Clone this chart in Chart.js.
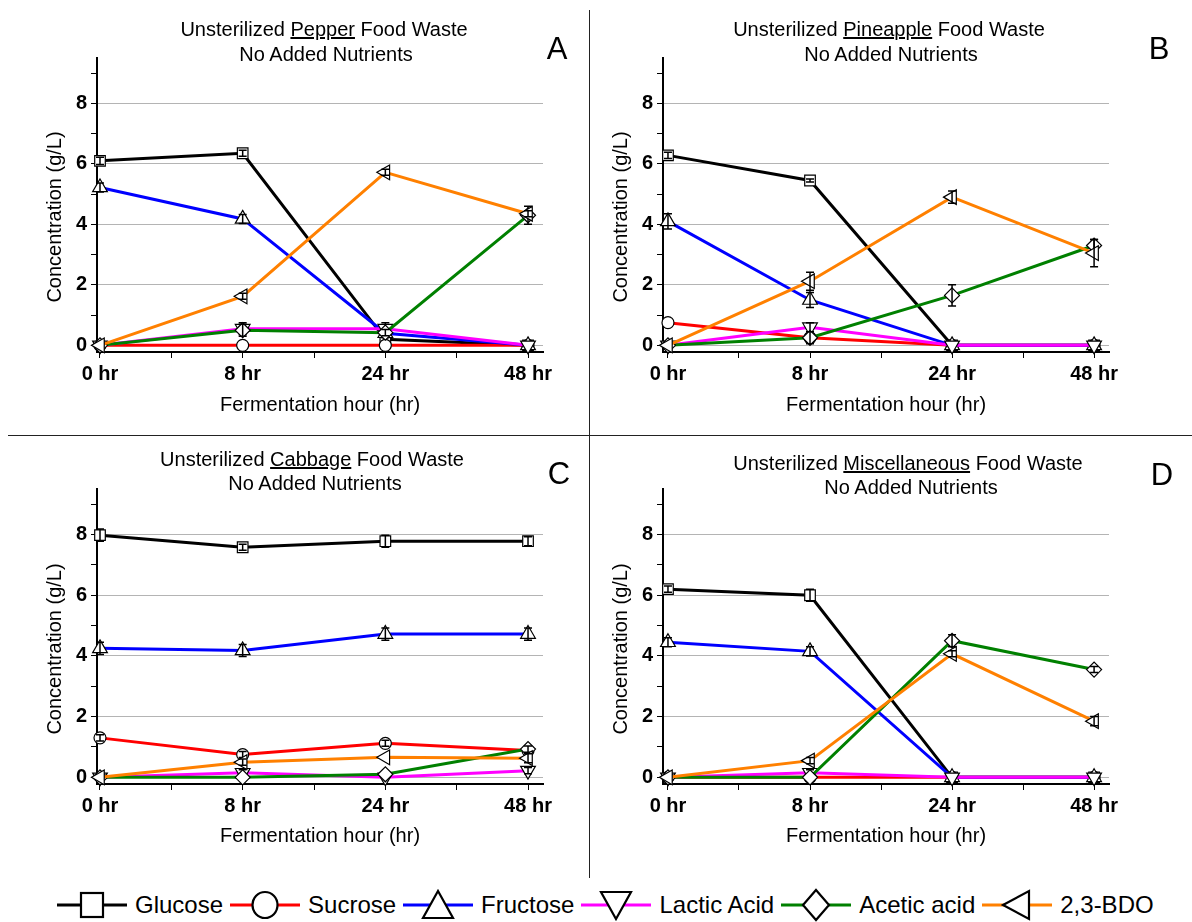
<!DOCTYPE html>
<html>
<head>
<meta charset="utf-8">
<script src="https://cdn.jsdelivr.net/npm/chart.js@4.4.0/dist/chart.umd.min.js"></script>
<style>
    body {
        margin: 0;
        width: 1192px;
        height: 922px;
        position: relative;
        overflow: hidden;
        background: #fff;
        font-family: 'Liberation Sans', Arial, sans-serif;
        color: #000;
    }
    canvas { position: absolute; }
    .title {
        position: absolute;
        transform: translate(-50%, -50%);
        font-size: 20px;
        line-height: 1;
        white-space: nowrap;
    }
    .ytitle {
        position: absolute;
        transform: translate(-50%, -50%) rotate(-90deg);
        font-size: 20px;
        line-height: 1;
        white-space: nowrap;
    }
    .letter {
        position: absolute;
        transform: translate(-50%, -50%);
        font-size: 31px;
        line-height: 1;
    }
    .vline { position: absolute; left: 589px; top: 10px; width: 1px; height: 868px; background: #222; }
    .hline { position: absolute; left: 8px; top: 435px; width: 1184px; height: 1px; background: #222; }
    .legend {
        position: absolute;
        left: 57px;
        top: 888px;
        height: 34px;
        display: flex;
        align-items: center;
        font-size: 24px;
        white-space: nowrap;
    }
    .legend .item { display: flex; align-items: center; margin-right: 7px; }
    .legend svg { margin-right: 8px; }
</style>
</head>
<body>

<canvas id="chartA" width="589" height="430" style="left:0;top:0"></canvas>
<canvas id="chartB" width="602" height="430" style="left:590px;top:0"></canvas>
<canvas id="chartC" width="589" height="430" style="left:0;top:437px"></canvas>
<canvas id="chartD" width="602" height="430" style="left:590px;top:437px"></canvas>

<div class="title" style="left:324px;top:29px">Unsterilized <u>Pepper</u> Food Waste</div>
<div class="title" style="left:326px;top:54px">No Added Nutrients</div>
<div class="title" style="left:889px;top:29px">Unsterilized <u>Pineapple</u> Food Waste</div>
<div class="title" style="left:891px;top:54px">No Added Nutrients</div>
<div class="title" style="left:312px;top:459px">Unsterilized <u>Cabbage</u> Food Waste</div>
<div class="title" style="left:315px;top:483px">No Added Nutrients</div>
<div class="title" style="left:908px;top:463px">Unsterilized <u>Miscellaneous</u> Food Waste</div>
<div class="title" style="left:911px;top:487px">No Added Nutrients</div>

<div class="ytitle" style="left:54px;top:217px">Concentration (g/L)</div>
<div class="ytitle" style="left:620px;top:217px">Concentration (g/L)</div>
<div class="ytitle" style="left:54px;top:649px">Concentration (g/L)</div>
<div class="ytitle" style="left:620px;top:649px">Concentration (g/L)</div>

<div class="letter" style="left:557px;top:48px">A</div>
<div class="letter" style="left:1159px;top:48px">B</div>
<div class="letter" style="left:559px;top:473px">C</div>
<div class="letter" style="left:1162px;top:474px">D</div>

<div class="vline"></div>
<div class="hline"></div>

<div class="legend" id="legend"></div>

<script>
// 공통 데이터
const hours = ['0 hr', '8 hr', '24 hr', '48 hr'];
const compounds = ['Glucose', 'Sucrose', 'Fructose', 'Lactic Acid', 'Acetic acid', '2,3-BDO'];

// A - Pepper
const pepperGlucose = [6.1, 6.35, 0.2, 0];
const pepperSucrose = [0, 0, 0, 0];
const pepperFructose = [5.22, 4.18, 0.4, 0];
const pepperLactic = [0, 0.55, 0.55, 0];
const pepperAcetic = [0, 0.5, 0.42, 4.3];
const pepperBdo = [0, 1.62, 5.72, 4.35];
// 오차 (± g/L), compounds 순서
const pepperErrors = [
    [0.12, 0.1, 0.05, 0],
    [0, 0, 0, 0],
    [0.15, 0.15, 0.1, 0],
    [0, 0.2, 0.2, 0],
    [0, 0.2, 0.1, 0.3],
    [0, 0.1, 0.1, 0.1]
];

// B - Pineapple
const pineappleGlucose = [6.28, 5.45, 0, 0];
const pineappleSucrose = [0.75, 0.25, 0, 0];
const pineappleFructose = [4.1, 1.5, 0, 0];
const pineappleLactic = [0, 0.6, 0, 0];
const pineappleAcetic = [0, 0.25, 1.65, 3.3];
const pineappleBdo = [0, 2.12, 4.9, 3.05];
const pineappleErrors = [
    [0.1, 0.05, 0, 0],
    [0, 0.05, 0, 0],
    [0.25, 0.25, 0, 0],
    [0, 0.15, 0, 0],
    [0, 0.2, 0.35, 0.2],
    [0, 0.3, 0.2, 0.45]
];

// C - Cabbage
const cabbageGlucose = [7.98, 7.58, 7.78, 7.78];
const cabbageSucrose = [1.3, 0.75, 1.12, 0.88];
const cabbageFructose = [4.25, 4.18, 4.72, 4.72];
const cabbageLactic = [0, 0.15, 0, 0.22];
const cabbageAcetic = [0, 0, 0.1, 0.93];
const cabbageBdo = [0, 0.5, 0.66, 0.63];
const cabbageErrors = [
    [0.2, 0.1, 0.2, 0.15],
    [0.1, 0.1, 0.1, 0.05],
    [0.2, 0.2, 0.2, 0.2],
    [0, 0.1, 0, 0.1],
    [0, 0, 0, 0.1],
    [0, 0.1, 0, 0.15]
];

// D - Miscellaneous
const miscGlucose = [6.2, 6.0, 0, 0];
const miscSucrose = [0, 0, 0, 0];
const miscFructose = [4.45, 4.15, 0, 0];
const miscLactic = [0, 0.15, 0, 0];
const miscAcetic = [0, 0, 4.5, 3.55];
const miscBdo = [0, 0.55, 4.07, 1.85];
const miscErrors = [
    [0.1, 0.2, 0, 0],
    [0, 0, 0, 0],
    [0.15, 0.15, 0, 0],
    [0, 0.1, 0, 0],
    [0, 0, 0.2, 0.1],
    [0, 0.1, 0.1, 0.15]
];

// 스타일
const lineColors = ['#000000', '#ff0000', '#0000ff', '#ff00ff', '#008000', '#ff8000'];
const pointStyles = ['rect', 'circle', 'triangle', 'triangle', 'rectRot', 'triangle'];
const pointRotations = [0, 0, 0, 180, 0, 270];
const pointSizes = [7.5, 6, 8.5, 8.5, 7.5, 8.5];

Chart.defaults.font.family = "'Liberation Sans', Arial, sans-serif";
Chart.defaults.color = '#000';


// 오차 막대 (각 데이터셋 뒤에 그림)
const errorBarPlugin = {
    id: 'errorBars',
    afterDatasetDraw: function(chart, args) {

        const ds = chart.data.datasets[args.index];
        const err = ds.errors || [];
        const yScale = chart.scales.y;
        const ctx = chart.ctx;

        ctx.save();
        ctx.strokeStyle = '#000';
        ctx.lineWidth = 1.5;

        args.meta.data.forEach(function(pt, k) {
            const e = err[k];
            if (!e) {
                return;
            }
            const v = ds.data[k].y;
            const top = yScale.getPixelForValue(v + e);
            const bot = yScale.getPixelForValue(v - e);

            ctx.beginPath();
            ctx.moveTo(pt.x, top);
            ctx.lineTo(pt.x, bot);
            ctx.moveTo(pt.x - 4, top);
            ctx.lineTo(pt.x + 4, top);
            ctx.moveTo(pt.x - 4, bot);
            ctx.lineTo(pt.x + 4, bot);
            ctx.stroke();
        });

        ctx.restore();
    }
};


function makePanel(id, series, errors, geo) {

    const ctx = document.getElementById(id);

    return new Chart(ctx, {
        type: 'line',
        data: {
            datasets: series.map(function(values, i) {
                return {
                    label: compounds[i],
                    data: values.map(function(v, k) {
                        return { x: k, y: v };
                    }),
                    errors: errors[i],
                    borderColor: lineColors[i],
                    borderWidth: 3,
                    pointStyle: pointStyles[i],
                    pointRotation: pointRotations[i],
                    pointRadius: pointSizes[i],
                    pointBackgroundColor: '#fff',
                    pointBorderColor: '#000',
                    pointBorderWidth: 1.2,
                    tension: 0,
                    clip: false,
                    order: series.length - 1 - i
                };
            })
        },
        plugins: [errorBarPlugin],
        options: {
            responsive: false,
            animation: false,
            layout: {
                padding: { top: geo.top, right: geo.right, left: 0, bottom: 0 }
            },
            plugins: {
                legend: { display: false },
                tooltip: { enabled: false }
            },
            scales: {
                x: {
                    type: 'linear',
                    min: geo.xMin,
                    max: 3.105,
                    afterFit: function(scale) { scale.height = geo.xAxisHeight; },
                    border: { color: '#000', width: 2 },
                    grid: {
                        drawOnChartArea: false,
                        drawTicks: true,
                        tickLength: 6,
                        tickColor: '#000'
                    },
                    ticks: {
                        stepSize: 0.5,
                        includeBounds: false,
                        autoSkip: false,
                        maxRotation: 0,
                        padding: 4,
                        color: '#000',
                        font: { size: 20, weight: 'bold' },
                        callback: function(v) {
                            return Number.isInteger(v) ? hours[v] : '';
                        }
                    },
                    title: {
                        display: true,
                        text: 'Fermentation hour (hr)',
                        color: '#000',
                        font: { size: 20 },
                        padding: { top: 0, bottom: geo.xTitlePad }
                    }
                },
                y: {
                    min: -0.22,
                    max: 9.5,
                    afterFit: function(scale) { scale.width = geo.yAxisWidth; },
                    border: { color: '#000', width: 2 },
                    grid: {
                        color: function(c) {
                            return (c.tick && c.tick.value % 2 === 0) ? '#b4b4b4' : 'rgba(0,0,0,0)';
                        },
                        tickColor: '#000',
                        tickLength: 6
                    },
                    ticks: {
                        stepSize: 1,
                        includeBounds: false,
                        padding: 4,
                        color: '#000',
                        font: { size: 20, weight: 'bold' },
                        callback: function(v) {
                            return v % 2 === 0 ? String(v) : '';
                        }
                    }
                }
            }
        }
    });
}


const geoLeftTop = { top: 58, right: 46, yAxisWidth: 97, xAxisHeight: 78, xTitlePad: 13, xMin: -0.021 };
const geoRightTop = { top: 58, right: 83, yAxisWidth: 73, xAxisHeight: 78, xTitlePad: 13, xMin: -0.035 };
const geoLeftBottom = { top: 52, right: 46, yAxisWidth: 97, xAxisHeight: 83, xTitlePad: 19, xMin: -0.021 };
const geoRightBottom = { top: 52, right: 83, yAxisWidth: 73, xAxisHeight: 83, xTitlePad: 19, xMin: -0.035 };

makePanel('chartA',
    [pepperGlucose, pepperSucrose, pepperFructose, pepperLactic, pepperAcetic, pepperBdo],
    pepperErrors, geoLeftTop);
makePanel('chartB',
    [pineappleGlucose, pineappleSucrose, pineappleFructose, pineappleLactic, pineappleAcetic, pineappleBdo],
    pineappleErrors, geoRightTop);
makePanel('chartC',
    [cabbageGlucose, cabbageSucrose, cabbageFructose, cabbageLactic, cabbageAcetic, cabbageBdo],
    cabbageErrors, geoLeftBottom);
makePanel('chartD',
    [miscGlucose, miscSucrose, miscFructose, miscLactic, miscAcetic, miscBdo],
    miscErrors, geoRightBottom);


// 하단 범례
const legendShapes = [
    '<rect x="24" y="5" width="22" height="24"/>',
    '<ellipse cx="35" cy="17" rx="12.5" ry="13"/>',
    '<polygon points="35,3 20,30 50,30"/>',
    '<polygon points="20,4 50,4 35,31"/>',
    '<polygon points="35,2 48,17 35,32 22,17"/>',
    '<polygon points="21,17 47,3 47,31"/>'
];

const legendEl = document.getElementById('legend');

compounds.forEach(function(name, i) {
    const item = document.createElement('div');
    item.className = 'item';
    item.innerHTML =
        '<svg width="70" height="34" viewBox="0 0 70 34">' +
        '<line x1="0" y1="17" x2="70" y2="17" stroke="' + lineColors[i] + '" stroke-width="3"/>' +
        '<g fill="#fff" stroke="#000" stroke-width="2.2">' + legendShapes[i] + '</g>' +
        '</svg><span>' + name + '</span>';
    legendEl.appendChild(item);
});
</script>
</body>
</html>
